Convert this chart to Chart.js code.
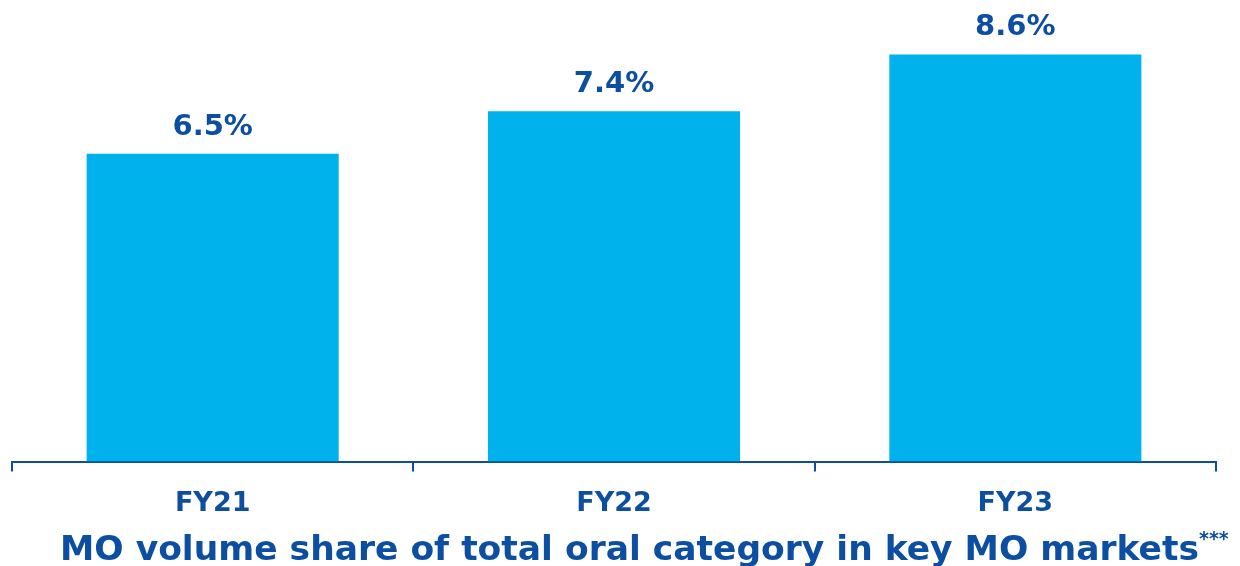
<!DOCTYPE html>
<html>
<head>
<meta charset="utf-8">
<script src="https://cdn.jsdelivr.net/npm/chart.js@4/dist/chart.umd.min.js"></script>
<style>
  html, body { margin: 0; padding: 0; background: #fff; }
  #wrap { position: relative; width: 1240px; height: 566px; overflow: hidden; }
  #title {
    position: absolute; left: 60px; top: 527px;
    color: #0b4ea2;
    font-family: "DejaVu Sans", sans-serif; font-weight: bold; font-size: 34.5px;
    white-space: nowrap; line-height: 42px;
  }
  #title sup { font-size: 19px; vertical-align: 15px; line-height: 0; }
</style>
</head>
<body>
<div id="wrap">
  <canvas id="shareChart" width="1240" height="566"></canvas>
  <div id="title">MO volume share of total oral category in key MO markets<sup>***</sup></div>
</div>
<script>
const years = ["FY21", "FY22", "FY23"];
const shareValues = [6.5, 7.4, 8.6];

const BAR_COLOR = "#00b2eb";
const TEXT_COLOR = "#0b4ea2";

// draw the % labels above each bar
const valueLabels = {
  id: "valueLabels",
  afterDatasetsDraw(chart) {
    const { ctx } = chart;
    const meta = chart.getDatasetMeta(0);
    ctx.save();
    ctx.fillStyle = TEXT_COLOR;
    ctx.font = "bold 29px 'DejaVu Sans', sans-serif";
    ctx.textAlign = "center";
    ctx.textBaseline = "alphabetic";
    meta.data.forEach((bar, i) => {
      ctx.fillText(shareValues[i].toFixed(1) + "%", bar.x, bar.y - 19);
    });
    ctx.restore();
  },
};

new Chart(document.getElementById("shareChart").getContext("2d"), {
  type: "bar",
  data: {
    labels: years,
    datasets: [{
      data: shareValues,
      backgroundColor: BAR_COLOR,
      borderWidth: 0,
      categoryPercentage: 1,
      barPercentage: 0.628,
    }],
  },
  options: {
    responsive: false,
    animation: false,
    layout: { padding: { left: 12, right: 24, top: 0, bottom: 30 } },
    plugins: {
      legend: { display: false },
      tooltip: { enabled: false },
    },
    scales: {
      y: { display: false, min: 0, max: 9.75 },
      x: {
        border: { display: true, color: TEXT_COLOR, width: 2 },
        grid: {
          offset: true,
          drawOnChartArea: false,
          drawTicks: true,
          tickLength: 10,
          color: TEXT_COLOR,
          lineWidth: 2,
        },
        ticks: {
          color: TEXT_COLOR,
          padding: 16,
          font: { family: "'DejaVu Sans', sans-serif", weight: "bold", size: 27 },
        },
      },
    },
  },
  plugins: [valueLabels],
});
</script>
</body>
</html>
